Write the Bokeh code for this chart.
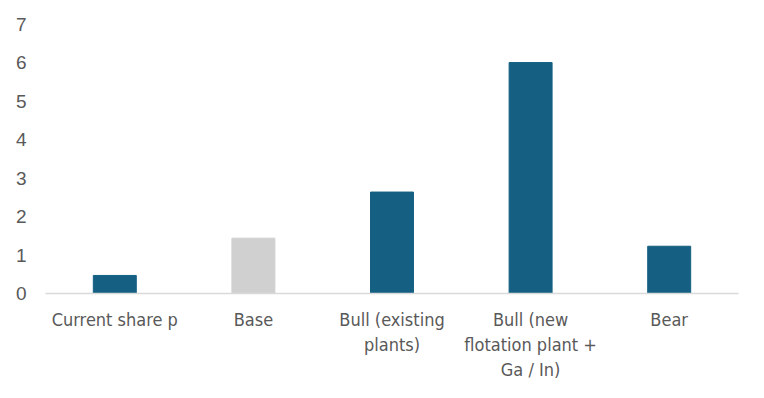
from bokeh.plotting import figure
from bokeh.models import Range1d, ColumnDataSource, LinearAxis, FixedTicker
from bokeh.embed import file_html
from bokeh.resources import INLINE

categories = ["Current share p", "Base", "Bull (existing plants)", "Bull (new flotation plant + Ga / In)", "Bear"]
label_lines = [["Current share p"], ["Base"], ["Bull (existing", "plants)"],
               ["Bull (new", "flotation plant +", "Ga / In)"], ["Bear"]]
values = [0.47, 1.44, 2.64, 6.01, 1.23]
colors = ["#156082", "#d0d0d0", "#156082", "#156082", "#156082"]

xpos = [i + 0.5 for i in range(len(categories))]
src = ColumnDataSource(dict(x=xpos, top=values, color=colors, name=categories))

p = figure(x_range=Range1d(0, len(categories)), y_range=Range1d(0, 7),
           frame_width=693, frame_height=269, output_backend="svg", toolbar_location=None,
           min_border_left=45, min_border_right=10, min_border_top=24, min_border_bottom=0,
           x_axis_type=None)
p.vbar(x="x", top="top", width=0.31, color="color", source=src)

p.xgrid.visible = False
p.ygrid.visible = False
p.outline_line_color = None
p.background_fill_color = "white"

p.yaxis.axis_line_color = None
p.yaxis.major_tick_line_color = None
p.yaxis.minor_tick_line_color = None
p.yaxis.ticker = [0, 1, 2, 3, 4, 5, 6, 7]
p.yaxis.major_label_text_font = "Liberation Sans"
p.yaxis.major_label_text_font_size = "19px"
p.yaxis.major_label_text_color = "#595959"
p.yaxis.major_label_standoff = 13

label_font = "DejaVu Sans Condensed"

def make_axis(j, standoff, line_color):
    ax = LinearAxis(ticker=FixedTicker(ticks=xpos), axis_line_color=line_color)
    ax.major_tick_line_color = None
    ax.minor_tick_line_color = None
    ax.major_label_overrides = {x: (l[j] if j < len(l) else " ") for x, l in zip(xpos, label_lines)}
    ax.major_label_text_font = label_font
    ax.major_label_text_font_size = "18px"
    ax.major_label_text_color = "#595959"
    ax.major_label_standoff = standoff
    return ax

a0 = make_axis(0, 9, "#d9d9d9")
a0.axis_line_width = 1.5
p.add_layout(a0, "below")
p.add_layout(make_axis(1, -5, None), "below")
p.add_layout(make_axis(2, -5, None), "below")

open("out.html", "w").write(file_html(p, INLINE))
